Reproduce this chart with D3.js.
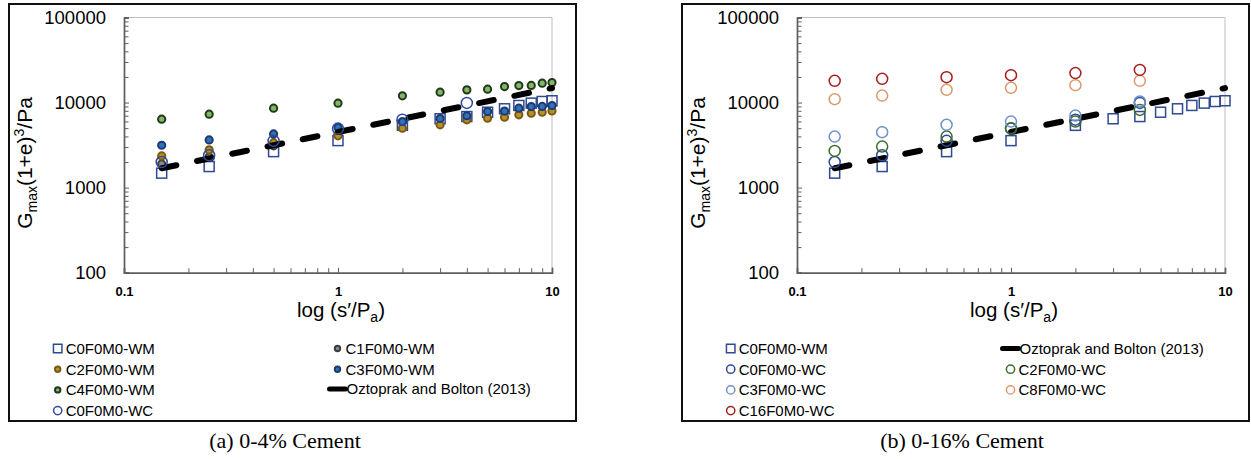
<!DOCTYPE html>
<html>
<head>
<meta charset="utf-8">
<script src="https://cdn.jsdelivr.net/npm/d3@7"></script>
<style>
  body { margin: 0; background: #fff; }
  svg { display: block; }
</style>
</head>
<body>
<svg id="chart" width="1251" height="459"></svg>
<script>
// Normalised mean effective stress s'/Pa at which Gmax was measured
const pressureWM = [0.15, 0.25, 0.5, 1, 2, 3, 4, 5, 6, 7, 8, 9, 10];
const pressureC1 = [0.15, 0.25, 0.5, 1];
const pressureWC = [0.15, 0.25, 0.5, 1, 2, 4];

// Gmax(1+e)^3 / Pa, mixtures prepared with the WM method
const gC0WM = [1480, 1770, 2650, 3570, 5400, 6450, 6850, 7700, 8450, 9250, 9850, 10300, 10500];
const gC1WM = [1900, 2300, 3100, 4200];
const gC2WM = [2360, 2780, 3380, 4060, 5000, 5470, 6260, 6550, 6730, 7170, 7500, 7710, 7980];
const gC3WM = [3150, 3640, 4280, 5100, 5970, 6500, 7000, 7830, 7950, 8590, 8970, 9000, 9220];
const gC4WM = [6380, 7310, 8590, 9840, 12000, 13250, 14100, 14360, 15430, 15850, 15900, 16900, 17180];

// Gmax(1+e)^3 / Pa, mixtures prepared with the WC method
const gC0WC = [2000, 2400, 3550, 4950, 6300, 9900];
const gC2WC = [2700, 3040, 3980, 5000, 5970, 8200];
const gC3WC = [3980, 4490, 5470, 5970, 7030, 10300];
const gC8WC = [10960, 12080, 14100, 14900, 16000, 18000];
const gC16WC = [18000, 19000, 19900, 21000, 22200, 24200];

// Oztoprak and Bolton (2013) reference trend (straight in log-log space)
const refPressure = [0.15, 10];
const refG = [1690, 14800];

// Axis labels
const xTickValues = [0.1, 1, 10];
const yTickValues = [100, 1000, 10000, 100000];
const captions = ["(a) 0-4% Cement", "(b) 0-16% Cement"];

const svg = d3.select("#chart");
const FONT = "'Liberation Sans', Arial, sans-serif";

const styles = {
  C0WM:  { shape: "square", stroke: "#2f4a90", fill: "none", size: 10, sw: 1.5 },
  C1WM:  { shape: "dot", stroke: "#3d3d3d", fill: "#8a8a8a", r: 3.6, sw: 2 },
  C2WM:  { shape: "dot", stroke: "#7a5a10", fill: "#b8902a", r: 3.6, sw: 2 },
  C3WM:  { shape: "dot", stroke: "#1d3a73", fill: "#2f72b5", r: 3.6, sw: 2 },
  C4WM:  { shape: "dot", stroke: "#1f3a18", fill: "#86b56a", r: 3.6, sw: 2 },
  C0WC:  { shape: "ring", stroke: "#2f4a9a", r: 5.5, sw: 1.5 },
  C2WC:  { shape: "ring", stroke: "#3b6d2a", r: 5.5, sw: 1.5 },
  C3WC:  { shape: "ring", stroke: "#6f8fca", r: 5.5, sw: 1.5 },
  C8WC:  { shape: "ring", stroke: "#dc9a6c", r: 5.5, sw: 1.5 },
  C16WC: { shape: "ring", stroke: "#a51d1d", r: 5.5, sw: 1.5 },
  ref:   { shape: "line" }
};

function drawMarker(sel, st, cx, cy, scale) {
  const k = scale || 1;
  if (st.shape === "square") {
    const s = st.size * k;
    sel.append("rect").attr("x", cx - s / 2).attr("y", cy - s / 2)
      .attr("width", s).attr("height", s)
      .attr("fill", st.fill).attr("stroke", st.stroke).attr("stroke-width", st.sw);
  } else if (st.shape === "dot") {
    sel.append("circle").attr("cx", cx).attr("cy", cy).attr("r", st.r * k)
      .attr("fill", st.fill).attr("stroke", st.stroke).attr("stroke-width", st.sw);
  } else if (st.shape === "ring") {
    sel.append("circle").attr("cx", cx).attr("cy", cy).attr("r", st.r * k)
      .attr("fill", "none").attr("stroke", st.stroke).attr("stroke-width", st.sw);
  }
}

function drawPanel(p) {
  const g = svg.append("g").attr("transform", `translate(${p.dx},0)`);

  // outer frame
  g.append("rect").attr("x", 9).attr("y", 4).attr("width", 567).attr("height", 417)
    .attr("fill", "none").attr("stroke", "#111").attr("stroke-width", 2);

  const x = d3.scaleLog().domain([0.1, 10]).range([124, 552]);
  const y = d3.scaleLog().domain([100, 100000]).range([272.7, 17.5]);

  // light plot-area border on top and right
  g.append("path")
    .attr("d", `M${x(0.1)},${y(100000)}H${x(10)}V${y(100)}`)
    .attr("fill", "none").attr("stroke", "#bdbdbd").attr("stroke-width", 1);

  const xMinor = [];
  for (let d = 0.1; d < 10; d *= 10) for (let m = 2; m <= 9; m++) xMinor.push(+(d * m).toPrecision(3));
  const yMinor = [];
  for (let d = 100; d < 100000; d *= 10) for (let m = 2; m <= 9; m++) yMinor.push(d * m);

  const axisColor = "#5e5e5e";
  const styleAxis = a => {
    a.select(".domain").attr("stroke", axisColor).attr("stroke-width", 1.4);
    a.selectAll(".tick line").attr("stroke", axisColor).attr("stroke-width", 1);
  };

  // bottom axis
  g.append("g").attr("transform", `translate(0,${y(100)})`)
    .call(d3.axisBottom(x).tickValues(xMinor).tickSize(-4.5).tickFormat(""))
    .call(styleAxis);
  g.append("g").attr("transform", `translate(0,${y(100)})`)
    .call(d3.axisBottom(x).tickValues(xTickValues).tickSize(-5).tickPadding(14)
      .tickFormat(d3.format("")))
    .call(styleAxis)
    .call(a => a.selectAll("text").attr("fill", "#000")
      .style("font-family", FONT).style("font-size", "13px").style("font-weight", "bold"));

  // left axis
  g.append("g").attr("transform", `translate(${x(0.1)},0)`)
    .call(d3.axisLeft(y).tickValues(yMinor).tickSize(-4.5).tickFormat(""))
    .call(styleAxis);
  g.append("g").attr("transform", `translate(${x(0.1)},0)`)
    .call(d3.axisLeft(y).tickValues(yTickValues).tickSize(-5).tickPadding(18)
      .tickFormat(d3.format("d")))
    .call(styleAxis)
    .call(a => a.selectAll("text").attr("fill", "#000")
      .style("font-family", FONT).style("font-size", "18.5px"));

  // y title
  const yt = g.append("text")
    .attr("transform", "translate(32,163) rotate(-90)")
    .attr("text-anchor", "middle")
    .style("font-family", FONT).style("font-size", "21px").attr("fill", "#000");
  yt.append("tspan").text("G");
  yt.append("tspan").attr("dy", 5).style("font-size", "14px").text("max");
  yt.append("tspan").attr("dy", -5).text("(1+e)");
  yt.append("tspan").attr("dy", -8).style("font-size", "14px").text("3");
  yt.append("tspan").attr("dy", 8).text("/Pa");

  // x title
  const xt = g.append("text")
    .attr("x", 341).attr("y", 317).attr("text-anchor", "middle")
    .style("font-family", FONT).style("font-size", "20.5px").attr("fill", "#000");
  xt.append("tspan").text("log (s\u2032/P");
  xt.append("tspan").attr("dy", 5).style("font-size", "14px").text("a");
  xt.append("tspan").attr("dy", -5).text(")");

  // series
  const lineGen = d3.line().x(d => x(d[0])).y(d => y(d[1]));
  p.series.forEach(s => {
    const st = styles[s.style];
    if (st.shape === "line") {
      g.append("path").datum(d3.zip(s.x, s.y))
        .attr("d", lineGen).attr("fill", "none").attr("stroke", "#000")
        .attr("stroke-width", 6).attr("stroke-linecap", "round")
        .attr("stroke-dasharray", "15 21");
    } else {
      const sg = g.append("g");
      s.x.forEach((xv, i) => drawMarker(sg, st, x(xv), y(s.y[i])));
    }
  });

  // legend
  p.legend.forEach(item => {
    const st = styles[item.style];
    const lg = g.append("g");
    if (st.shape === "line") {
      lg.append("line").attr("x1", item.mx - 8).attr("x2", item.mx + 8)
        .attr("y1", item.my).attr("y2", item.my)
        .attr("stroke", "#000").attr("stroke-width", 5).attr("stroke-linecap", "round");
    } else {
      drawMarker(lg, st, item.mx, item.my, st.shape === "square" ? 0.85 : 0.75);
    }
    lg.append("text").attr("x", item.mx + (st.shape === "line" ? 9 : 8)).attr("y", item.my + 5.5)
      .style("font-family", FONT).style("font-size", "15px").attr("fill", "#000")
      .text(item.label);
  });

  // caption
  g.append("text").attr("x", p.captionX).attr("y", 448).attr("text-anchor", "middle")
    .style("font-family", "'Liberation Serif', 'Times New Roman', serif")
    .style("font-size", "22px").attr("fill", "#000").text(p.caption);
}

const rows = [348.5, 369.2, 389.9, 410.6];
const col1 = 57.7, col2 = 337.5;

drawPanel({
  dx: 0,
  caption: captions[0],
  captionX: 285,
  series: [
    { style: "C0WM", x: pressureWM, y: gC0WM },
    { style: "C1WM", x: pressureC1, y: gC1WM },
    { style: "C2WM", x: pressureWM, y: gC2WM },
    { style: "C3WM", x: pressureWM, y: gC3WM },
    { style: "C4WM", x: pressureWM, y: gC4WM },
    { style: "ref",  x: refPressure, y: refG },
    { style: "C0WC", x: pressureWC, y: gC0WC }
  ],
  legend: [
    { style: "C0WM", label: "C0F0M0-WM", mx: col1, my: rows[0] },
    { style: "C2WM", label: "C2F0M0-WM", mx: col1, my: rows[1] },
    { style: "C4WM", label: "C4F0M0-WM", mx: col1, my: rows[2] },
    { style: "C0WC", label: "C0F0M0-WC", mx: col1, my: rows[3] },
    { style: "C1WM", label: "C1F0M0-WM", mx: col2, my: rows[0] },
    { style: "C3WM", label: "C3F0M0-WM", mx: col2, my: rows[1] },
    { style: "ref",  label: "Oztoprak and Bolton (2013)", mx: col2, my: rows[2] - 1 }
  ]
});

drawPanel({
  dx: 673,
  caption: captions[1],
  captionX: 289,
  series: [
    { style: "C0WM",  x: pressureWM, y: gC0WM },
    { style: "ref",   x: refPressure, y: refG },
    { style: "C0WC",  x: pressureWC, y: gC0WC },
    { style: "C2WC",  x: pressureWC, y: gC2WC },
    { style: "C3WC",  x: pressureWC, y: gC3WC },
    { style: "C8WC",  x: pressureWC, y: gC8WC },
    { style: "C16WC", x: pressureWC, y: gC16WC }
  ],
  legend: [
    { style: "C0WM",  label: "C0F0M0-WM", mx: col1, my: rows[0] },
    { style: "C0WC",  label: "C0F0M0-WC", mx: col1, my: rows[1] },
    { style: "C3WC",  label: "C3F0M0-WC", mx: col1, my: rows[2] },
    { style: "C16WC", label: "C16F0M0-WC", mx: col1, my: rows[3] },
    { style: "ref",   label: "Oztoprak and Bolton (2013)", mx: col2, my: rows[0] },
    { style: "C2WC",  label: "C2F0M0-WC", mx: col2, my: rows[1] },
    { style: "C8WC",  label: "C8F0M0-WC", mx: col2, my: rows[2] }
  ]
});
</script>
</body>
</html>
